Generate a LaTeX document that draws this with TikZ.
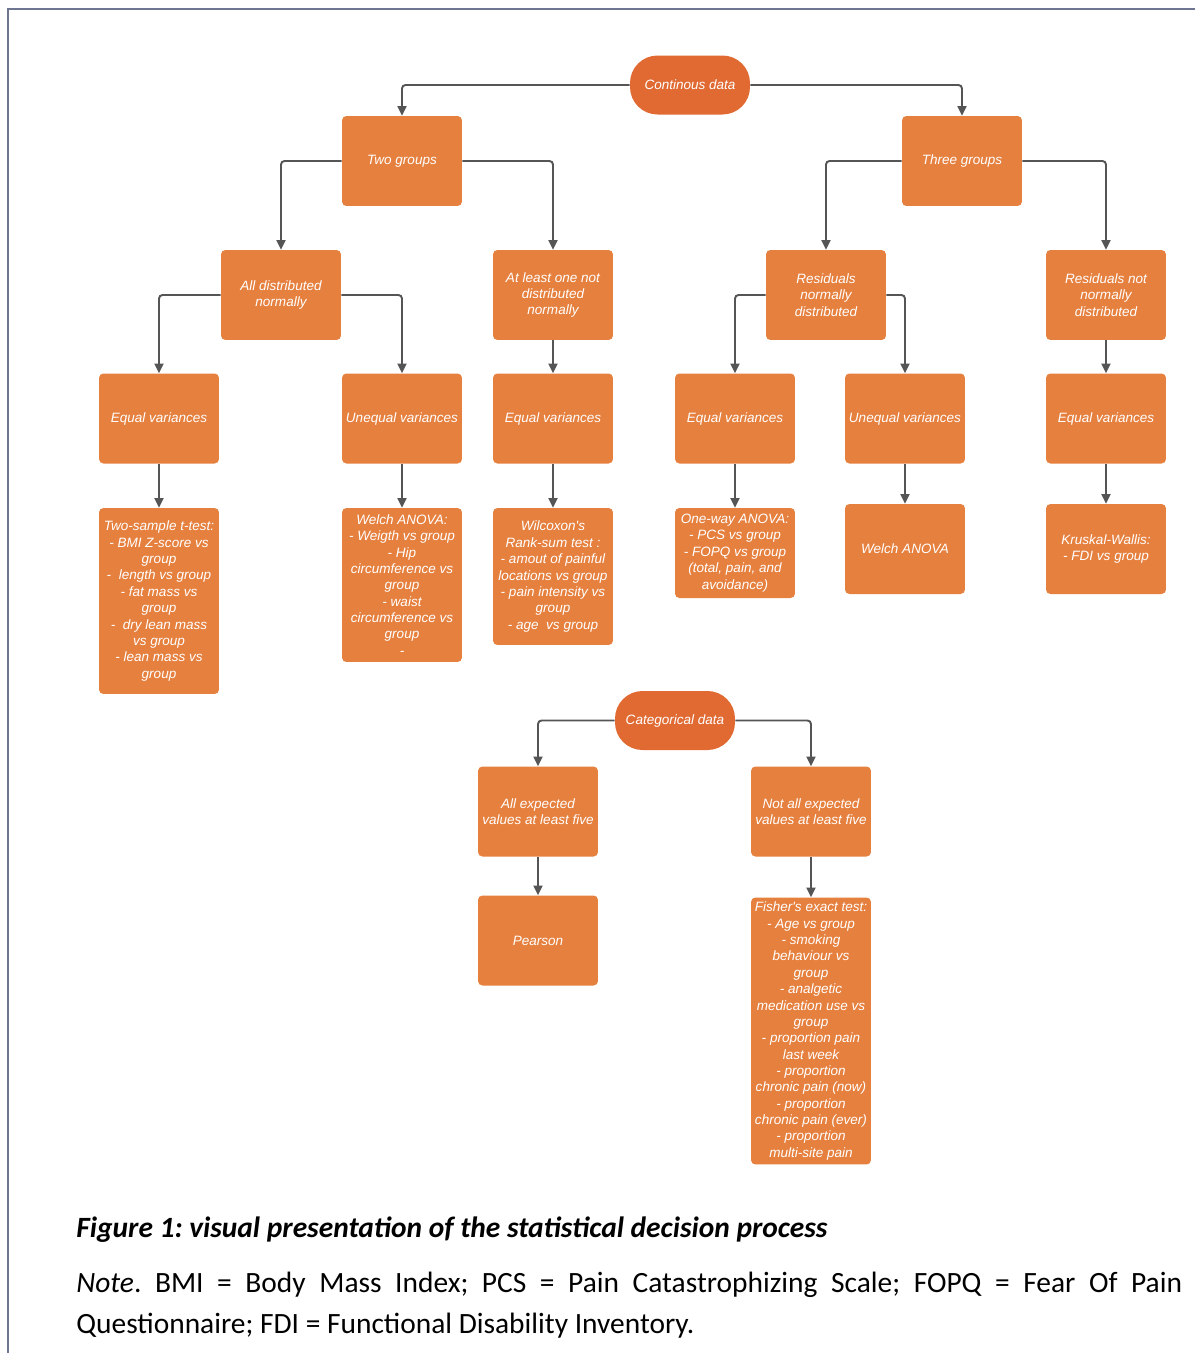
\documentclass[tikz,border=0pt]{standalone}
\usepackage{fontspec}
\usetikzlibrary{arrows.meta}
\newfontfamily\boxfont{Liberation Sans}
\newfontfamily\capfont{Carlito}
\definecolor{boxor}{HTML}{E6803E}
\definecolor{pillor}{HTML}{E06A32}
\definecolor{linegray}{HTML}{555555}
\definecolor{framecol}{HTML}{6E7590}
\frenchspacing
\tikzset{
  box/.style={rectangle, rounded corners=2.5pt, fill=boxor, text=white,
    font=\boxfont\itshape\fontsize{7.7}{9.3}\selectfont, minimum width=2.4cm,
    minimum height=1.8cm, inner sep=1pt, align=center},
  pill/.style={box, fill=pillor, minimum height=1.18cm, rounded corners=0.55cm},
  arr/.style={draw=linegray, line width=1.1pt, rounded corners=2pt,
    -{Triangle[length=5.5pt,width=5.2pt]}},
  captext/.style={inner sep=0pt, anchor=base west, font=\capfont\fontsize{16.75}{20}\selectfont\frenchspacing}
}
\begin{document}
\begin{tikzpicture}[x=0.02cm,y=-0.02cm]
\useasboundingbox (0,0) rectangle (1195,1353);
\draw[framecol, line width=1.1pt] (8,1360) -- (8,9) -- (1200,9);

% continuous data
\node[pill] (cont) at (690,85) {Continous data};
\node[box] (two) at (402,161) {Two groups};
\node[box] (three) at (962,161) {Three groups};

\node[box] (alln) at (281,295) {All distributed\\normally};
\node[box] (atl) at (553,295) {At least one not\\distributed\\normally};
\node[box] (resn) at (826,295) {Residuals\\normally\\distributed};
\node[box] (resnn) at (1106,295) {Residuals not\\normally\\distributed};

\node[box] (eq1) at (159,418.5) {Equal variances};
\node[box] (uneq1) at (402,418.5) {Unequal variances};
\node[box] (eq2) at (553,418.5) {Equal variances};
\node[box] (eq3) at (735,418.5) {Equal variances};
\node[box] (uneq2) at (905,418.5) {Unequal variances};
\node[box] (eq4) at (1106,418.5) {Equal variances};

\node[box, minimum height=3.72cm] (ttest) at (159,601) {Two-sample t-test:\\- BMI Z-score vs\\group\\-\ \ length vs group\\- fat mass vs\\group\\-\ \ dry lean mass\\vs group\\- lean mass vs\\group};
\node[box, minimum height=3.08cm] (welch1) at (402,585) {Welch ANOVA:\\- Weigth vs group\\- Hip\\circumference vs\\group\\- waist\\circumference vs\\group\\-};
\node[box, minimum height=2.74cm] (wilc) at (553,576.5) {Wilcoxon's\\Rank-sum test :\\- amout of painful\\locations vs group\\- pain intensity vs\\group\\- age\ \ vs group};
\node[box] (oneway) at (735,553) {One-way ANOVA:\\- PCS vs group\\- FOPQ vs group\\(total, pain, and\\avoidance)};
\node[box] (welch2) at (905,549) {Welch ANOVA};
\node[box] (kw) at (1106,549) {Kruskal-Wallis:\\- FDI vs group};

\draw[arr] (cont.west) -| (two.north);
\draw[arr] (cont.east) -| (three.north);
\draw[arr] (two.west) -| (alln.north);
\draw[arr] (two.east) -| (atl.north);
\draw[arr] (three.west) -| (resn.north);
\draw[arr] (three.east) -| (resnn.north);
\draw[arr] (alln.west) -| (eq1.north);
\draw[arr] (alln.east) -| (uneq1.north);
\draw[arr] (atl.south) -- (eq2.north);
\draw[arr] (resn.west) -| (eq3.north);
\draw[arr] (resn.east) -| (uneq2.north);
\draw[arr] (resnn.south) -- (eq4.north);
\draw[arr] (eq1.south) -- (ttest.north);
\draw[arr] (uneq1.south) -- (welch1.north);
\draw[arr] (eq2.south) -- (wilc.north);
\draw[arr] (eq3.south) -- (oneway.north);
\draw[arr] (uneq2.south) -- (welch2.north);
\draw[arr] (eq4.south) -- (kw.north);

% categorical data
\node[pill] (cat) at (675,720.5) {Categorical data};
\node[box] (allexp) at (538,811.5) {All expected\\values at least five};
\node[box] (notall) at (811,811.5) {Not all expected\\values at least five};
\node[box] (pearson) at (538,940.5) {Pearson};
\node[box, minimum height=5.34cm] (fisher) at (811,1031) {Fisher's exact test:\\- Age vs group\\- smoking\\behaviour vs\\group\\- analgetic\\medication use vs\\group\\- proportion pain\\last week\\- proportion\\chronic pain (now)\\- proportion\\chronic pain (ever)\\- proportion\\multi-site pain};

\draw[arr] (cat.west) -| (allexp.north);
\draw[arr] (cat.east) -| (notall.north);
\draw[arr] (allexp.south) -- (pearson.north);
\draw[arr] (notall.south) -- (fisher.north);

% caption
\node[captext] (cap) at (76,1237) {\bfseries\itshape Figure 1: visual presentation of the statistical decision process};
\node[captext] (note1) at (76,1292) {\hbox to 22.12cm{\itshape Note\upshape. BMI = Body Mass Index; PCS = Pain Catastrophizing Scale; FOPQ = Fear Of Pain}};
\node[captext] (note2) at (76,1333) {Questionnaire; FDI = Functional Disability Inventory.};
\end{tikzpicture}
\end{document}
